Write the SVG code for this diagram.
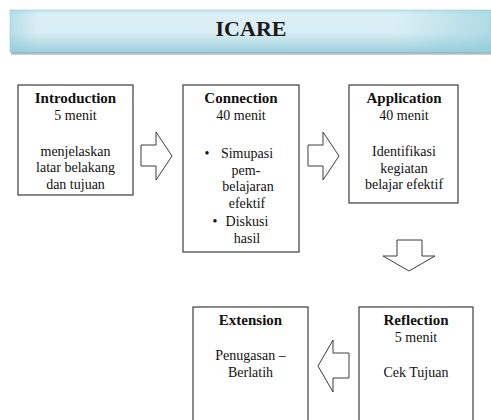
<svg xmlns="http://www.w3.org/2000/svg" width="491" height="420" viewBox="0 0 491 420">
<defs>
<linearGradient id="barV" x1="0" y1="0" x2="0" y2="1">
<stop offset="0" stop-color="#c4e5ee"/>
<stop offset="0.12" stop-color="#dcf0f5"/>
<stop offset="0.55" stop-color="#d8eef4"/>
<stop offset="1" stop-color="#9ed0de"/>
</linearGradient>
<linearGradient id="barH" x1="0" y1="0" x2="1" y2="0">
<stop offset="0" stop-color="#8ccad9" stop-opacity="0.45"/>
<stop offset="0.06" stop-color="#8ccad9" stop-opacity="0"/>
<stop offset="0.8" stop-color="#8ccad9" stop-opacity="0"/>
<stop offset="1" stop-color="#8ccad9" stop-opacity="0.55"/>
</linearGradient>
<linearGradient id="shadow" x1="0" y1="0" x2="0" y2="1">
<stop offset="0" stop-color="#8a9a9e"/>
<stop offset="1" stop-color="#d8dcdd"/>
</linearGradient>
</defs>
<style>
.box{fill:#ffffff;stroke:#3c3c3c;stroke-width:1.2}
.arr{fill:#ffffff;stroke:#3c3c3c;stroke-width:1}
text{font-family:'Liberation Serif','Tinos','DejaVu Serif','Noto Serif','Times New Roman',serif;fill:#111111;text-anchor:middle}
.t{font-size:14px}
.h{font-size:15px;font-weight:bold}
.title{font-size:22px;font-weight:bold;fill:#1a1a1a}
</style>
<rect width="491" height="420" fill="#ffffff"/>
<g id="header">
<rect x="11" y="52" width="480" height="3" fill="url(#shadow)"/>
<rect x="10" y="10" width="481" height="42" fill="url(#barV)" stroke="#a9d6e2" stroke-width="0.8"/>
<rect x="10" y="10" width="481" height="42" fill="url(#barH)"/>
<text class="title" x="251" y="36" font-family="Liberation Serif, serif">ICARE</text>
</g>
<g id="introduction">
<rect class="box" x="18" y="85" width="115" height="110"/>
<text class="h" x="75.5" y="103">Introduction</text>
<text class="t" x="75.5" y="120">5 menit</text>
<text class="t" x="75.5" y="156">menjelaskan</text>
<text class="t" x="75.5" y="172">latar belakang</text>
<text class="t" x="75.5" y="189">dan tujuan</text>
</g>
<g id="connection">
<rect class="box" x="183" y="85" width="116" height="167"/>
<text class="h" x="241" y="103">Connection</text>
<text class="t" x="241" y="120">40 menit</text>
<text class="t" x="207" y="158">•</text>
<text class="t" x="247" y="158">Simupasi</text>
<text class="t" x="246" y="175">pem-</text>
<text class="t" x="248" y="191">belajaran</text>
<text class="t" x="247" y="208">efektif</text>
<text class="t" x="215" y="226">•</text>
<text class="t" x="247" y="226">Diskusi</text>
<text class="t" x="247" y="243">hasil</text>
</g>
<g id="application">
<rect class="box" x="349" y="85" width="109" height="118"/>
<text class="h" x="404" y="103">Application</text>
<text class="t" x="404" y="120">40 menit</text>
<text class="t" x="404" y="156">Identifikasi</text>
<text class="t" x="404" y="173">kegiatan</text>
<text class="t" x="404" y="189">belajar efektif</text>
</g>
<g id="reflection">
<rect class="box" x="359" y="307" width="114" height="130"/>
<text class="h" x="416" y="325">Reflection</text>
<text class="t" x="416" y="342">5 menit</text>
<text class="t" x="416" y="377">Cek Tujuan</text>
</g>
<g id="extension">
<rect class="box" x="193" y="307" width="115" height="130"/>
<text class="h" x="250.5" y="325">Extension</text>
<text class="t" x="250.5" y="360">Penugasan –</text>
<text class="t" x="250.5" y="377">Berlatih</text>
</g>
<g id="connectors">
<polygon class="arr" points="141,145 156,145 156,132 172,156 156,180 156,166 141,166"/>
<polygon class="arr" points="308,145 323,145 323,132 339,156 323,180 323,166 308,166"/>
<polygon class="arr" points="397,240 422,240 422,256 435,256 409,271 383,256 397,256"/>
<polygon class="arr" points="349,353 333,353 333,340 318,366 333,392 333,378 349,378"/>
</g>
</svg>
